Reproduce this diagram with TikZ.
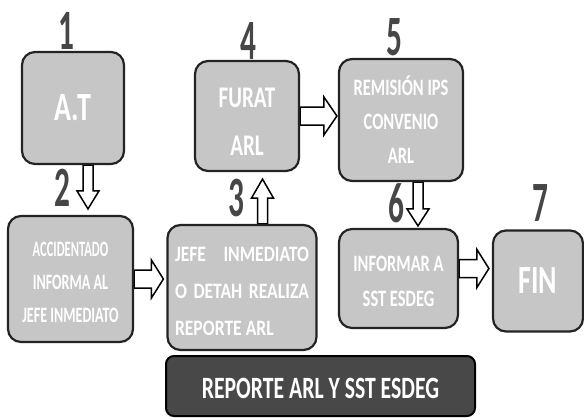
\documentclass[tikz,border=0pt]{standalone}
\usepackage{fontspec}
\setmainfont{Carlito}
\newfontfamily\boxfont[FakeStretch=0.7]{Carlito}
\newfontfamily\narrowfont[FakeStretch=0.64]{Carlito}
\newfontfamily\widefont[FakeStretch=0.8]{Carlito}
\newfontfamily\numfont[FakeStretch=0.55]{Carlito}
\usetikzlibrary{calc,backgrounds}
\definecolor{boxgray}{RGB}{198,198,198}
\definecolor{boxline}{RGB}{35,35,35}
\definecolor{bardark}{RGB}{72,72,72}
\definecolor{numgray}{RGB}{70,70,70}
\tikzset{
  stepbox/.style={draw=boxline, line width=2.2pt, fill=boxgray, rounded corners=13pt,
    text=white, align=center, inner sep=0pt},
  numlabel/.style={font=\numfont\bfseries\fontsize{57}{57}\selectfont, text=numgray, inner sep=0pt},
  blockarrow/.style={draw=black, fill=white, line width=1.5pt, line join=miter},
  barbox/.style={draw=black, line width=2pt, fill=bardark, rounded corners=8pt,
    text=white, inner sep=0pt}
}
% #1 start, #2 tip, #3 shaft half width, #4 head half width, #5 head length
\newcommand{\blockarr}[5]{%
  \coordinate (ba-h) at ($(#2)!#5!(#1)$);
  \draw[blockarrow] ($(#1)!#3!90:(#2)$) -- ($(ba-h)!#3!90:(#2)$) -- ($(ba-h)!#4!90:(#2)$)
    -- (#2) -- ($(ba-h)!#4!-90:(#2)$) -- ($(ba-h)!#3!-90:(#2)$) -- ($(#1)!#3!-90:(#2)$) -- cycle;
}
\begin{document}
\begin{tikzpicture}[x=1pt,y=-1pt]
\useasboundingbox (0,0) rectangle (584,420);

% boxes
\node[stepbox, minimum width=102pt, minimum height=112pt,
  font=\boxfont\bfseries\fontsize{40}{40}\selectfont] (b1) at (73,108) {A.T};
\node[stepbox, minimum width=104pt, minimum height=110pt,
  font=\boxfont\bfseries\fontsize{30}{48}\selectfont] (b4) at (247,116) {\rule{0pt}{30pt}FURAT\\ARL};
\node[stepbox, minimum width=124pt, minimum height=122pt,
  font=\boxfont\bfseries\fontsize{23.5}{34}\selectfont] (b5) at (401,120) {REMISIÓN IPS\\CONVENIO\\ARL};
\node[stepbox, minimum width=125pt, minimum height=126pt,
  font=\narrowfont\bfseries\fontsize{22}{33}\selectfont] (b2) at (70.5,279)
  {\rule{0pt}{22pt}\scalebox{0.89}[1]{ACCIDENTADO}\\INFORMA AL\\JEFE INMEDIATO};
\node[stepbox, minimum width=149pt, minimum height=125pt, align=left,
  font=\widefont\bfseries\fontsize{22}{37}\selectfont] (b3) at (242,287.5)
  {\rule{0pt}{22pt}\makebox[134pt][s]{JEFE INMEDIATO}\\\makebox[134pt][s]{O DETAH REALIZA}\\REPORTE ARL};
\node[stepbox, minimum width=119pt, minimum height=99pt,
  font=\boxfont\bfseries\fontsize{23.5}{35}\selectfont] (b6) at (398.5,278.5) {\rule{0pt}{22pt}INFORMAR A\\SST ESDEG};
\node[stepbox, minimum width=90pt, minimum height=101pt,
  font=\boxfont\bfseries\fontsize{40}{40}\selectfont] (b7) at (538,281) {FIN};
\node[barbox, minimum width=309pt, minimum height=60pt,
  font=\boxfont\bfseries\fontsize{31}{31}\selectfont] (bar) at (320.5,386) {\rule{0pt}{26pt}REPORTE ARL Y SST ESDEG};

% step numbers
\node[numlabel] (n1) at (66,31) {1};
\node[numlabel] (n2) at (62,188) {2};
\node[numlabel] (n3) at (236,198) {3};
\node[numlabel] (n4) at (248,41) {4};
\node[numlabel] (n5) at (394,37) {5};
\node[numlabel] (n6) at (396,203) {6};
\node[numlabel] (n7) at (540,203) {7};

% connector coordinates
\coordinate (a12s) at ($(b1.south)+(15,0)$);
\coordinate (a12e) at ($(a12s |- b2.north)+(0,-6)$);
\coordinate (a23s) at (b2.east);
\coordinate (a23e) at ($(a23s -| b3.west)+(-3,0)$);
\coordinate (a34s) at ($(b3.north)+(20.5,0)$);
\coordinate (a34e) at ($(a34s |- b4.south)+(0,7)$);
\coordinate (a45s) at (b4.east);
\coordinate (a45e) at ($(a45s -| b5.west)+(-1,0)$);
\coordinate (a56s) at ($(b5.south)+(17,0)$);
\coordinate (a56e) at ($(a56s |- b6.north)+(0,-2)$);
\coordinate (a67s) at ($(b6.east)+(0,-10)$);
\coordinate (a67e) at ($(a67s -| b7.west)+(-3,0)$);

\begin{scope}[on background layer]
\blockarr{a12s}{a12e}{5pt}{11pt}{18pt}
\blockarr{a23s}{a23e}{9pt}{19pt}{12pt}
\blockarr{a34s}{a34e}{5pt}{11pt}{19pt}
\blockarr{a45s}{a45e}{9pt}{19pt}{13pt}
\blockarr{a56s}{a56e}{5pt}{11pt}{17pt}
\blockarr{a67s}{a67e}{9pt}{19pt}{12pt}
\end{scope}
\end{tikzpicture}
\end{document}
